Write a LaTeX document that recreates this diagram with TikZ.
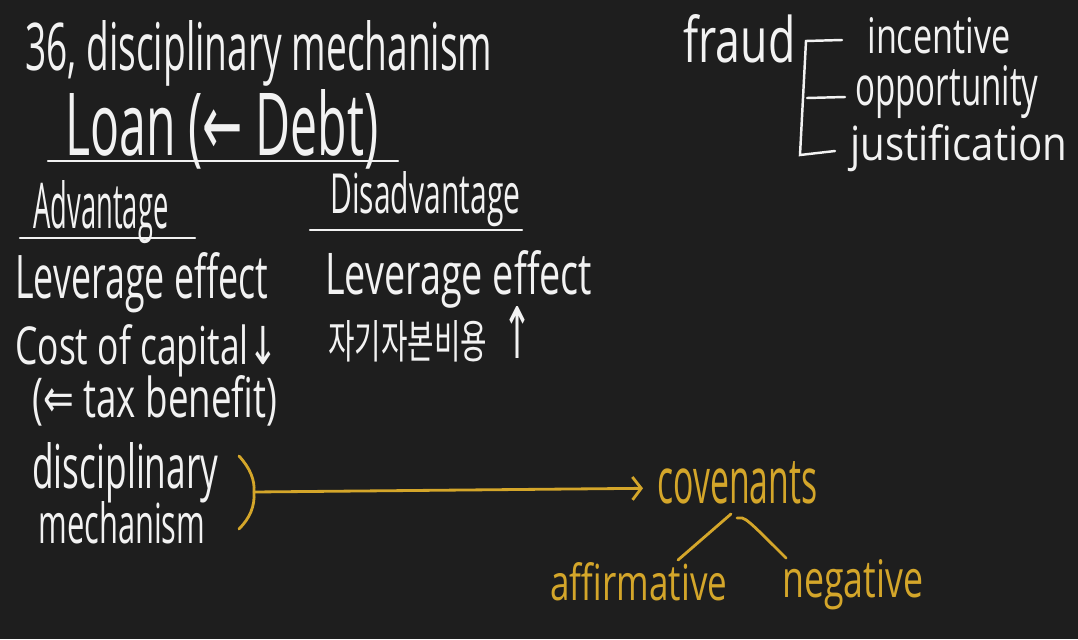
\documentclass[tikz,border=0pt]{standalone}
\usepackage{fontspec}
\setmainfont{Open Sans}
\newfontfamily\symf{DejaVu Sans}
\newfontfamily\kor{Noto Sans CJK KR}
\usetikzlibrary{arrows.meta,calc}
\newlength\px
\setlength\px{0.02cm}
\newcommand\fit[3]{\resizebox{#1\px}{#2\px}{#3}}
\definecolor{bg}{HTML}{1E1E1E}
\definecolor{ink}{HTML}{F2F2F2}
\definecolor{gold}{HTML}{D4A62A}
\tikzset{
  txt/.style={inner sep=0pt, anchor=base west, text=ink},
  gtxt/.style={txt, text=gold},
  wline/.style={draw=ink, line width=1.4pt, line cap=round},
  gline/.style={draw=gold, line width=1.6pt, line cap=round},
}
\begin{document}
\begin{tikzpicture}[x=0.02cm, y=-0.02cm]
\fill[bg] (0,0) rectangle (1078,639);
\useasboundingbox (0,0) rectangle (1078,639);
% left column
\node[txt] (title) at (25,70) {\fit{467}{50}{36, disciplinary mechanism}};
\node[txt] (loan) at (65,155) {\fit{313}{66}{Loan ({\symf ←} Debt)}};
\coordinate (lu1) at (48,161);
\coordinate (lu2) at (398,161);
\draw[wline] (lu1) -- (lu2);
\node[txt] (adv) at (33,228) {\fit{135}{48}{Advantage}};
\coordinate (au1) at (20,238);
\coordinate (au2) at (195,238);
\draw[wline] (au1) -- (au2);
\node[txt] (dis) at (330,213) {\fit{190}{42}{Disadvantage}};
\coordinate (du1) at (310,230);
\coordinate (du2) at (522,230);
\draw[wline] (du1) -- (du2);
\node[txt] (lev1) at (15,298) {\fit{253}{46}{Leverage effect}};
\node[txt] (lev2) at (325,294) {\fit{267}{44}{Leverage effect}};
\node[txt] (cost) at (15,364) {\fit{263}{40}{Cost of capital{\symf ↓}}};
\node[txt] (kc) at (328,358) {\fit{159}{38}{\kor 자기자본비용}\hspace{15\px}\fit{30}{52}{\symf ↑}};
\node[txt] (tax) at (32,417) {\fit{245}{42}{({\symf ⇐} tax benefit)}};
\node[txt] (disc) at (32,488) {\fit{186}{46}{disciplinary}};
\node[txt] (mech) at (38,543) {\fit{167}{42}{mechanism}};
% gold part
\coordinate (bt) at (239,456);
\coordinate (bm) at (254,492);
\coordinate (bb) at (239,529);
\draw[gline] (bt) .. controls (250,468) and (255,480) .. (bm) .. controls (255,506) and (250,518) .. (bb);
\node[gtxt] (cov) at (657,503) {\fit{160}{42}{covenants}};
\draw[gline, -{Straight Barb[length=5pt, width=13pt]}] (bm) -- ($(cov.west)+(-14,6)$);
\node[gtxt] (aff) at (550,600) {\fit{177}{38}{affirmative}};
\node[gtxt] (neg) at (782,597) {\fit{141}{38}{negative}};
\coordinate (c1) at (731,514);
\coordinate (c2) at (737,518);
\coordinate (a1) at (678,560);
\coordinate (n1) at (786,558);
\draw[gline] (c1) -- (a1);
\draw[gline] (c2) .. controls (745,517) .. (n1);
% right part
\node[txt] (fraud) at (683,62) {\fit{112}{48}{fraud}};
\node[txt] (inc) at (867,53) {\fit{143}{36}{incentive}};
\node[txt] (opp) at (855,105) {\fit{183}{40}{opportunity}};
\node[txt] (jus) at (850,160) {\fit{217}{36}{justification}};
\coordinate (ft) at (806,41);
\coordinate (fb) at (800,155);
\coordinate (t1) at (842,40);
\coordinate (m0) at (807,98);
\coordinate (t2) at (845,97);
\coordinate (t3) at (835,151);
\draw[wline] (t1) -- (ft) -- (fb) -- (t3);
\draw[wline] (m0) -- (t2);
\end{tikzpicture}
\end{document}
